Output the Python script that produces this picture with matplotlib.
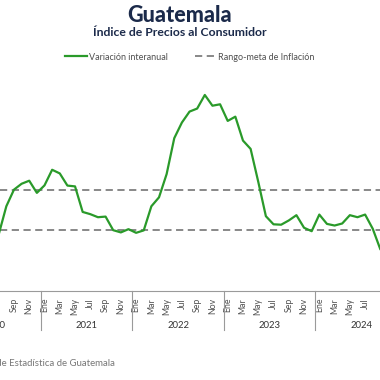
import matplotlib
matplotlib.use("Agg")
import matplotlib.pyplot as plt
import matplotlib.transforms as mtransforms

plt.rcParams['font.family'] = ['Lato', 'DejaVu Sans']

# monthly inflation (% y/y), Jun 2020 .. Oct 2024
start_year = 2020
start_month = 6  # June
inflacion = [2.20, 2.79, 4.18, 5.00, 5.29, 5.44, 4.84,
             5.21, 5.98, 5.80, 5.20, 5.16, 3.90, 3.79, 3.64, 3.67, 3.00, 2.89, 3.05,
             2.87, 2.99, 4.18, 4.62, 5.77, 7.54, 8.31, 8.85, 9.00, 9.67, 9.14, 9.21,
             8.39, 8.60, 7.42, 7.01, 5.39, 3.69, 3.29, 3.27, 3.48, 3.74, 3.12, 2.95,
             3.77, 3.31, 3.23, 3.33, 3.74, 3.64, 3.77, 3.07, 2.05, 1.85]
meta_baja = 3.0
meta_alta = 5.0
meses = ["Ene", "Feb", "Mar", "Abr", "May", "Jun",
         "Jul", "Ago", "Sep", "Oct", "Nov", "Dic"]
anios = [2020, 2021, 2022, 2023, 2024]

# month index, Jan 2020 = 0
x = [start_month - 1 + i for i in range(len(inflacion))]

navy = "#1b2a4a"
green = "#2a9a2a"
dash_gray = "#7f7f7f"
txt_gray = "#505050"

fig = plt.figure(figsize=(3.8, 3.8), dpi=100)
ax = fig.add_axes([0.0, 1 - 291 / 380, 1.0, (291 - 68) / 380])

ax.plot(x, inflacion, color=green, lw=1.6, solid_joinstyle="round",
        label="Variación interanual", zorder=3)
ax.axhline(meta_alta, color=dash_gray, lw=1.3, ls=(0, (4, 2.5)),
           label="Rango-meta de Inflación")
ax.axhline(meta_baja, color=dash_gray, lw=1.3, ls=(0, (4, 2.5)))

for s in ["top", "left", "right"]:
    ax.spines[s].set_visible(False)
ax.spines["bottom"].set_color("#9a9a9a")
ax.spines["bottom"].set_linewidth(0.8)
ax.set_yticks([])

ticks = [m for m in range(6, 12 * len(anios) - 4) if m % 2 == 0]
ax.set_xticks(ticks)
ax.set_xticklabels([meses[m % 12] for m in ticks], rotation=90,
                   fontsize=6.3, color=txt_gray)
ax.tick_params(axis="x", length=0, pad=5)
ax.set_xlim(6.17, 55.95)
ax.set_ylim(0, 11)

# year labels and separators below the axis
trans = mtransforms.blended_transform_factory(ax.transData, ax.transAxes)
for k, yr in enumerate(anios):
    ax.text(12 * k + 5.5, -0.155, str(yr), transform=trans, ha="center",
            va="center", fontsize=6.8, color="#333333", clip_on=False)
    if k > 0:
        ax.plot([12 * k - 0.5, 12 * k - 0.5], [0, -0.175], transform=trans,
                color="#9a9a9a", lw=0.8, clip_on=False)

fig.text(180 / 380, 1 - 15.5 / 380, "Guatemala", ha="center", va="center",
         fontsize=15.5, fontweight="black", color=navy)
fig.text(180 / 380, 1 - 33 / 380, "Índice de Precios al Consumidor",
         ha="center", va="center", fontsize=8.8, fontweight="bold", color=navy)

fig.legend(loc="center", bbox_to_anchor=(0.5, 1 - 57 / 380), ncol=2,
           frameon=False, fontsize=6.5, handlelength=2.4, handletextpad=0.2,
           columnspacing=3.0, labelcolor=txt_gray)

fig.text(115 / 380, 1 - 363 / 380,
         "Fuente: Instituto Nacional de Estadística de Guatemala",
         ha="right", va="center", fontsize=6.9, color="#777777")

fig.savefig("out.png", dpi=100)
